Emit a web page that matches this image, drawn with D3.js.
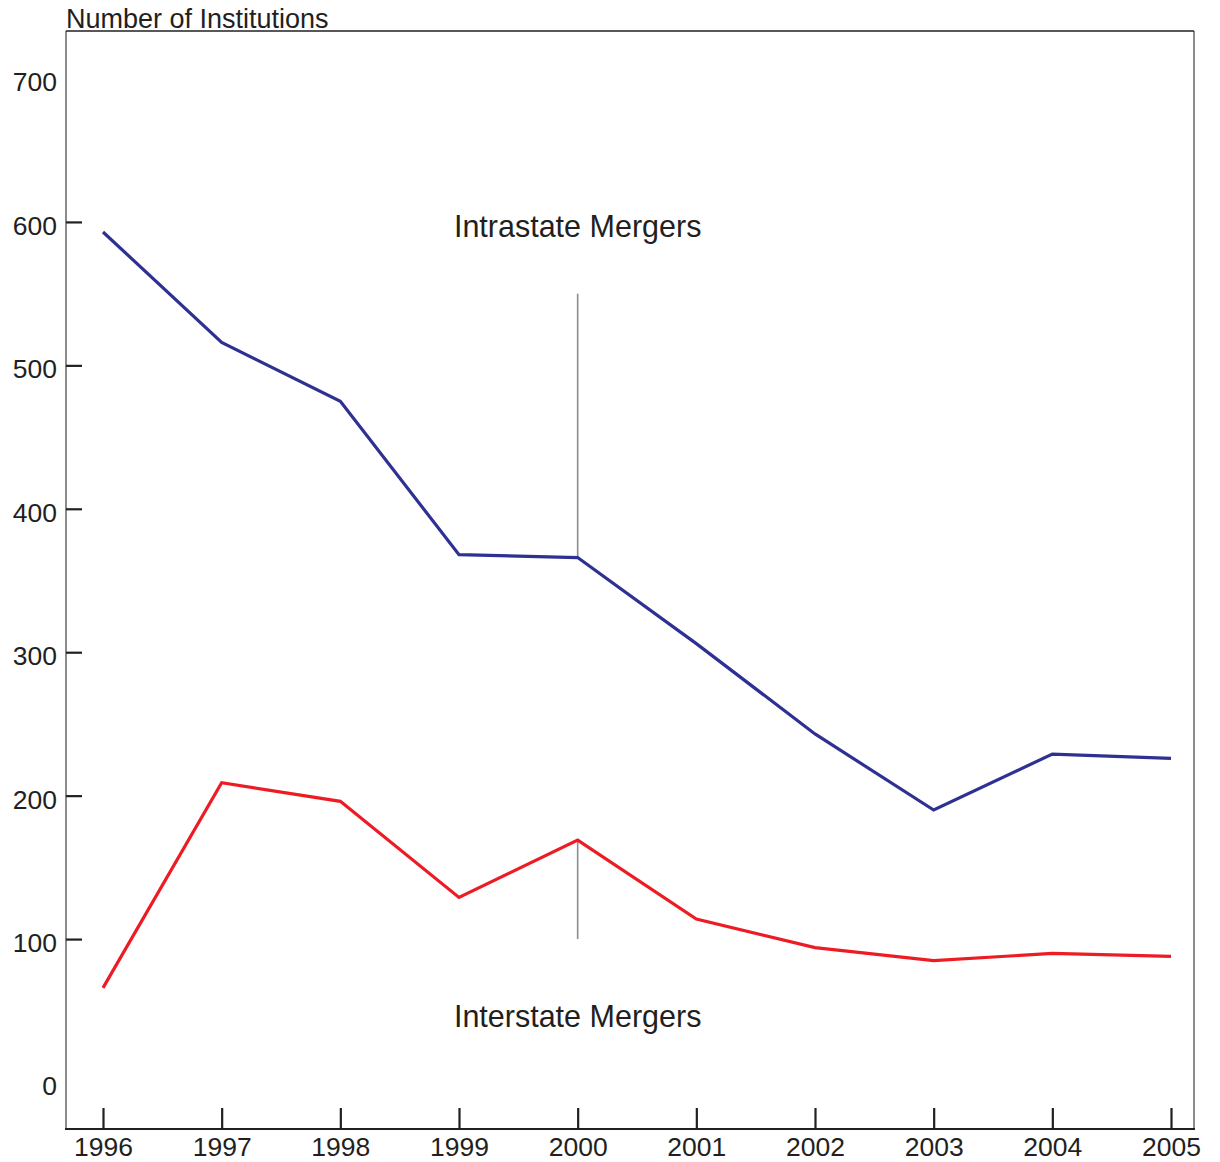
<!DOCTYPE html>
<html>
<head>
<meta charset="utf-8">
<script src="https://cdn.jsdelivr.net/npm/d3@7"></script>
<style>
  html, body { margin: 0; padding: 0; background: #fff; }
  svg { display: block; font-family: "Liberation Sans", Arial, Helvetica, sans-serif; }
</style>
</head>
<body>
<svg id="chart" width="1220" height="1162"></svg>
<script>
const years = [1996, 1997, 1998, 1999, 2000, 2001, 2002, 2003, 2004, 2005];
const intrastate = [593, 516, 475, 368, 366, 306, 243, 190, 229, 226];
const interstate = [66, 209, 196, 129, 169, 114, 94, 85, 90, 88];
const yTickValues = [0, 100, 200, 300, 400, 500, 600, 700];
const yTickMarks = [100, 200, 300, 400, 500, 600];
const annotationYear = 2000;
const annotationTop = 550;
const annotationBottom = 100;
const yAxisTitle = "Number of Institutions";
const labelIntra = "Intrastate Mergers";
const labelInter = "Interstate Mergers";

const svg = d3.select("#chart");
const box = { left: 66, top: 31, right: 1194, bottom: 1129 };
const textColor = "#231f20";

const x = d3.scaleLinear().domain([1996, 2005]).range([103, 1171]);
const y = d3.scaleLinear().domain([0, 700]).range([1082.5, 78.5]);

// frame
svg.append("line").attr("x1", box.left).attr("x2", box.left).attr("y1", box.top).attr("y2", box.bottom)
  .attr("stroke", "#8c8c8c").attr("stroke-width", 2);
svg.append("line").attr("x1", box.right).attr("x2", box.right).attr("y1", box.top).attr("y2", box.bottom)
  .attr("stroke", "#8c8c8c").attr("stroke-width", 2);
svg.append("line").attr("x1", box.left).attr("x2", box.right).attr("y1", box.top).attr("y2", box.top)
  .attr("stroke", "#231f20").attr("stroke-width", 1.5);
svg.append("line").attr("x1", box.left - 1).attr("x2", box.right + 1).attr("y1", box.bottom).attr("y2", box.bottom)
  .attr("stroke", "#231f20").attr("stroke-width", 2);

// y axis
const yAxis = d3.axisLeft(y).tickValues(yTickValues).tickSizeInner(-16).tickSizeOuter(0).tickPadding(9)
  .tickFormat(d3.format("d"));
const gy = svg.append("g").attr("transform", `translate(${box.left},0)`).call(yAxis);
gy.select(".domain").remove();
gy.selectAll(".tick line")
  .attr("stroke", "#231f20").attr("stroke-width", 2.2)
  .attr("display", d => yTickMarks.includes(d) ? null : "none");
gy.selectAll(".tick text")
  .attr("fill", textColor).attr("font-size", 26.5)
  .attr("font-family", "'Liberation Sans', Arial, sans-serif")
  .attr("dy", "0.47em");

// x axis
const xAxis = d3.axisBottom(x).tickValues(years).tickSizeInner(-21).tickSizeOuter(0).tickPadding(8)
  .tickFormat(d3.format("d"));
const gx = svg.append("g").attr("transform", `translate(0,${box.bottom})`).call(xAxis);
gx.select(".domain").remove();
gx.selectAll(".tick line").attr("stroke", "#231f20").attr("stroke-width", 2.2);
gx.selectAll(".tick text")
  .attr("fill", textColor).attr("font-size", 26.5)
  .attr("font-family", "'Liberation Sans', Arial, sans-serif");

// axis title
svg.append("text").attr("x", box.left).attr("y", 28)
  .attr("fill", textColor).attr("font-size", 27).text(yAxisTitle);

// annotation lines
const iA = years.indexOf(annotationYear);
svg.append("line")
  .attr("x1", x(annotationYear)).attr("x2", x(annotationYear))
  .attr("y1", y(annotationTop)).attr("y2", y(intrastate[iA]))
  .attr("stroke", "#8c8c8c").attr("stroke-width", 1.6);
svg.append("line")
  .attr("x1", x(annotationYear)).attr("x2", x(annotationYear))
  .attr("y1", y(interstate[iA])).attr("y2", y(annotationBottom))
  .attr("stroke", "#8c8c8c").attr("stroke-width", 1.6);

// lines
const line = d3.line().x((d, i) => x(years[i])).y(d => y(d));
svg.append("path").datum(intrastate).attr("d", line)
  .attr("fill", "none").attr("stroke", "#2e3192").attr("stroke-width", 3.2)
  .attr("stroke-linejoin", "miter");
svg.append("path").datum(interstate).attr("d", line)
  .attr("fill", "none").attr("stroke", "#ed1c24").attr("stroke-width", 3.2)
  .attr("stroke-linejoin", "miter");

// labels
svg.append("text").attr("x", x(annotationYear)).attr("y", 237)
  .attr("text-anchor", "middle").attr("fill", textColor).attr("font-size", 30.5).text(labelIntra);
svg.append("text").attr("x", x(annotationYear)).attr("y", 1027)
  .attr("text-anchor", "middle").attr("fill", textColor).attr("font-size", 30.5).text(labelInter);
</script>
</body>
</html>
